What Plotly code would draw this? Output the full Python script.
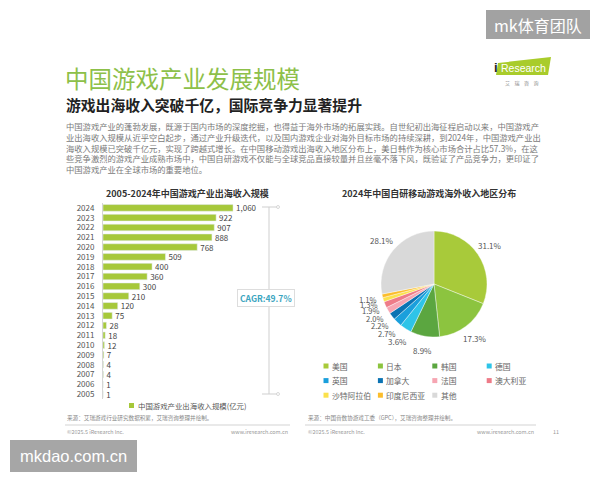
import math
import plotly.graph_objects as go

# ---------------- data ----------------
years = [str(y) for y in range(2024, 2004, -1)]
bar_values = [1060, 922, 907, 888, 768, 509, 400, 360, 300, 210,
              120, 75, 28, 18, 12, 7, 4, 4, 1, 1]
bar_series_name = "中国游戏产业出海收入规模(亿元)"
cagr_label = "CAGR:49.7%"

regions = ["美国", "日本", "韩国", "德国", "英国", "加拿大", "法国",
           "澳大利亚", "沙特阿拉伯", "印度尼西亚", "其他"]
shares = [31.1, 17.3, 8.9, 3.6, 2.7, 2.2, 2.0, 1.9, 1.3, 1.1, 28.1]
pie_colors = ["#a8ca3a", "#8cc43f", "#5ba640", "#2ec4e8", "#1a9fdc",
              "#0b73b3", "#f6a5b2", "#ee7b88", "#fbe14c", "#fbbd2c", "#d9d9d9"]

title_text = "中国游戏产业发展规模"
subtitle_text = "游戏出海收入突破千亿，国际竞争力显著提升"
paragraph_lines = [
    "中国游戏产业的蓬勃发展，既源于国内市场的深度挖掘，也得益于海外市场的拓展实践。自世纪初出海征程启动以来，中国游戏产",
    "业出海收入规模从近乎空白起步，通过产业升级迭代，以及国内游戏企业对海外目标市场的持续深耕，到2024年，中国游戏产业出",
    "海收入规模已突破千亿元，实现了跨越式增长。在中国移动游戏出海收入地区分布上，美日韩作为核心市场合计占比57.3%，在这",
    "些竞争激烈的游戏产业成熟市场中，中国自研游戏不仅能与全球竞品直接较量并且丝毫不落下风，既验证了产品竞争力，更印证了",
    "中国游戏产业在全球市场的重要地位。",
]
bar_title = "2005-2024年中国游戏产业出海收入规模"
pie_title = "2024年中国自研移动游戏海外收入地区分布"
source_left = "来源：艾瑞游戏行业研究数据积累，艾瑞咨询整理并绘制。"
source_right = "来源：中国音数协游戏工委（GPC），艾瑞咨询整理并绘制。"
copyright_text = "©2025.5 iResearch Inc."
site_text = "www.iresearch.com.cn"
page_no = "11"

# ---------------- helpers ----------------
W, H = 600, 480
FONT = "Noto Sans CJK SC, Noto Sans, sans-serif"


def X(p):
    return p / W


def Y(p):
    return 1 - p / H


# pie geometry (pixels)
PIE_CX, PIE_CY, PIE_R = 434, 284, 53
LABEL_R = 68

fig = go.Figure()

fig.add_trace(go.Bar(
    x=bar_values, y=years, orientation="h",
    marker=dict(color="#a6c83a"),
    text=[f"{v:,}" for v in bar_values],
    textposition="outside", textfont=dict(size=8, color="#444"),
    constraintext="none",
    cliponaxis=False, showlegend=False, hoverinfo="skip",
))

fig.add_trace(go.Pie(
    labels=regions, values=shares, sort=False, direction="clockwise",
    rotation=0,
    marker=dict(colors=pie_colors, line=dict(color="white", width=0.4)),
    textinfo="none",
    domain=dict(x=[X(PIE_CX - PIE_R), X(PIE_CX + PIE_R)],
                y=[Y(PIE_CY + PIE_R), Y(PIE_CY - PIE_R)]),
    showlegend=False, hoverinfo="skip",
))

shapes = []
ann = []


def text(x, y, s, size, color="#333", xanchor="left", yanchor="middle", **kw):
    ann.append(dict(x=X(x), y=Y(y), xref="paper", yref="paper", text=s,
                    showarrow=False, xanchor=xanchor, yanchor=yanchor,
                    font=dict(size=size, color=color, family=kw.pop("family", FONT),
                              weight=kw.pop("weight", "normal")), **kw))


# pie percentage labels, placed radially at each slice's mid-angle
total = sum(shares)
cum = 0.0
for v in shares:
    mid = (cum + v / 2) / total * 2 * math.pi
    cum += v
    lx = PIE_CX + LABEL_R * math.sin(mid)
    ly = PIE_CY - LABEL_R * math.cos(mid)
    text(lx, ly, f"{v:.1f}%", 8 if v >= 3 else 7.6, "#555", xanchor="center")

# header
text(63, 78, title_text, 23.5, "#8dc049")
text(64, 104, subtitle_text, 14.8, "#222", weight="bold")
ann.append(dict(x=X(64), y=Y(118), xref="paper", yref="paper",
                text="<br>".join(paragraph_lines), showarrow=False,
                xanchor="left", yanchor="top", align="left",
                font=dict(size=8.3, color="#7a7a7a", family=FONT)))

# chart titles
text(187, 193, bar_title, 9, "#333", xanchor="center", weight="bold")
text(429, 193, pie_title, 9, "#333", xanchor="center", weight="bold")

# CAGR bracket
line_style = dict(color="#cfcfcf", width=1)
shapes.append(dict(type="line", xref="paper", yref="paper",
                   x0=X(269), x1=X(269), y0=Y(207), y1=Y(394), line=line_style))
for yy in (207, 394):
    shapes.append(dict(type="line", xref="paper", yref="paper",
                       x0=X(262), x1=X(278), y0=Y(yy), y1=Y(yy), line=line_style))
    shapes.append(dict(type="circle", xref="paper", yref="paper",
                       x0=X(276.5), x1=X(279.5), y0=Y(yy - 1.5), y1=Y(yy + 1.5),
                       line=dict(color="#cfcfcf", width=0.8), fillcolor="white"))
ann.append(dict(x=X(266), y=Y(297.5), xref="paper", yref="paper", text=cagr_label,
                showarrow=False, xanchor="center", yanchor="middle",
                bgcolor="white", bordercolor="#dddddd", borderwidth=1, borderpad=2,
                font=dict(size=8.5, color="#3ba5c0", family=FONT, weight="bold")))

# bar legend
shapes.append(dict(type="rect", xref="paper", yref="paper",
                   x0=X(129), x1=X(134), y0=Y(403), y1=Y(408),
                   fillcolor="#a6c83a", line=dict(width=0)))
text(136, 405.5, bar_series_name, 7.4, "#555")

# pie legend (4 columns grid)
for i, (lab, col) in enumerate(zip(regions, pie_colors)):
    c, r = i % 4, i // 4
    cx = 326 + 54.4 * c
    cy = 366 + 14.6 * r
    shapes.append(dict(type="rect", xref="paper", yref="paper",
                       x0=X(cx - 2.5), x1=X(cx + 2.5), y0=Y(cy + 2.5), y1=Y(cy - 2.5),
                       fillcolor=col, line=dict(width=0)))
    text(cx + 4, cy, lab, 7.8, "#666")

# footers
for x0, x1 in ((65, 290), (305, 536)):
    shapes.append(dict(type="line", xref="paper", yref="paper",
                       x0=X(x0), x1=X(x1), y0=Y(425), y1=Y(425),
                       line=dict(color="#c8c8c8", width=0.8)))
text(65, 418, source_left, 5.6, "#888")
text(306, 418, source_right, 5.6, "#888")
text(65, 432, copyright_text, 5.4, "#999")
text(290, 432, site_text, 5.4, "#999", xanchor="right")
text(306, 432, copyright_text, 5.4, "#999")
text(536, 432, site_text, 5.4, "#999", xanchor="right")
text(556, 432, page_no, 5.4, "#999", xanchor="center")

# iResearch logo
shapes.append(dict(type="path", xref="paper", yref="paper",
                   path=f"M {X(496)},{Y(75)} L {X(498)},{Y(63)} L {X(551)},{Y(57)} L {X(548)},{Y(75)} Z",
                   fillcolor="#a9cc2b", line=dict(width=0)))
text(495.5, 67.5, "i", 13, "#222", xanchor="center", weight="bold",
     family="Liberation Sans, Arial, sans-serif")
text(498.5, 67.5, "Research", 10.5, "white", family="Liberation Sans, Arial, sans-serif")
text(521, 82.5, "艾    瑞    咨    询", 5, "#888", xanchor="center")

# watermarks
shapes.append(dict(type="rect", xref="paper", yref="paper",
                   x0=X(486), x1=X(590), y0=Y(39), y1=Y(10),
                   fillcolor="#a2a2a2", line=dict(width=0)))
text(538, 25, "mk体育团队", 16, "white", xanchor="center")
shapes.append(dict(type="rect", xref="paper", yref="paper",
                   x0=X(10), x1=X(137), y0=Y(472), y1=Y(440),
                   fillcolor="#a6a6a6", line=dict(width=0)))
text(73.5, 456, "mkdao.com.cn", 16.5, "white", xanchor="center",
     family="Liberation Sans, Arial, sans-serif")

fig.update_layout(
    width=W, height=H, margin=dict(l=0, r=0, t=0, b=0),
    paper_bgcolor="white", plot_bgcolor="white",
    font=dict(family=FONT),
    bargap=0.32,
    xaxis=dict(domain=[X(103), X(268)], range=[0, 1345], visible=False,
               fixedrange=True),
    yaxis=dict(domain=[Y(399), Y(203)], type="category",
               categoryorder="array", categoryarray=years,
               autorange="reversed", showline=True, linecolor="#d5d5d5",
               linewidth=1, ticks="", showgrid=False, zeroline=False,
               tickmode="array", tickvals=years, ticktext=years,
               tickfont=dict(size=8, color="#555"), ticklabelstandoff=6,
               fixedrange=True),
    shapes=shapes, annotations=ann, showlegend=False,
)

fig.write_html("out.html")
